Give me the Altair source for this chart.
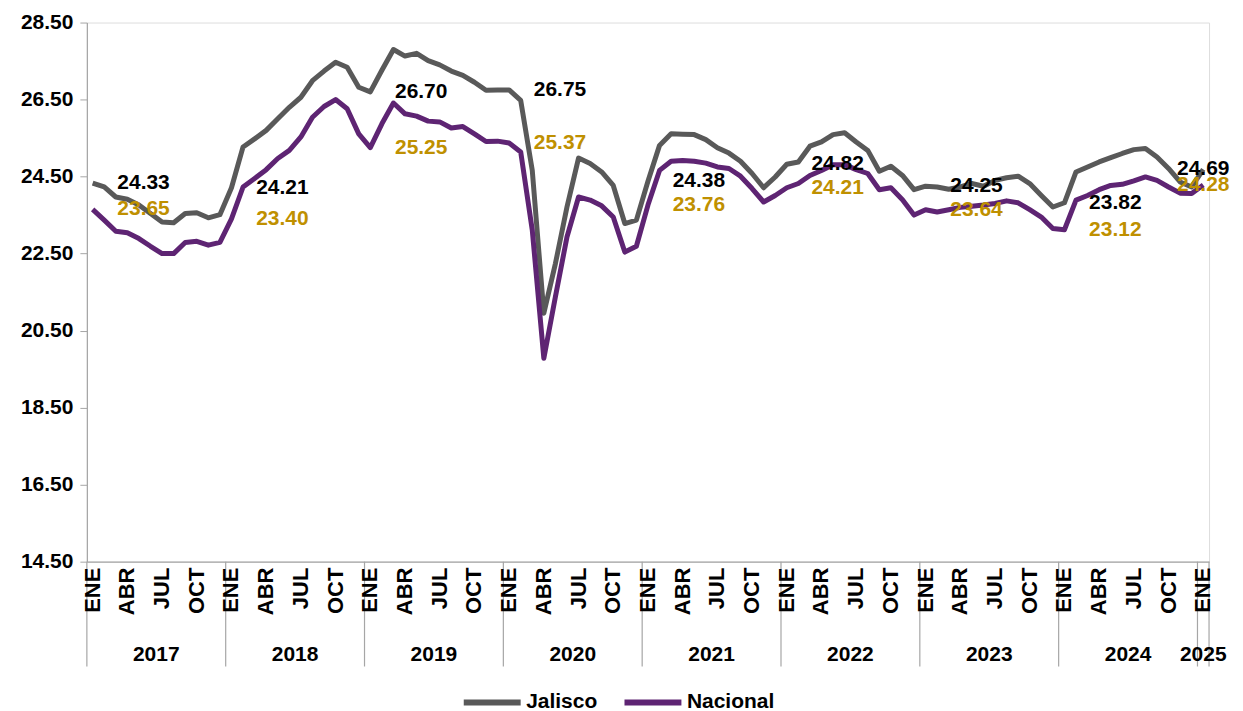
import altair as alt
import pandas as pd

# ---------------- data ----------------
years = [2017, 2018, 2019, 2020, 2021, 2022, 2023, 2024, 2025]
month_names = ["ENE", "ABR", "JUL", "OCT"]

jalisco = [24.33, 24.23, 23.97, 23.91, 23.76, 23.54, 23.32, 23.30, 23.54, 23.56, 23.43, 23.51,
           24.21, 25.27, 25.48, 25.70, 26.00, 26.30, 26.56, 26.99, 27.24, 27.47, 27.34, 26.82,
           26.70, 27.26, 27.80, 27.63, 27.70, 27.51, 27.40, 27.24, 27.13, 26.95, 26.74, 26.75,
           26.75, 26.48, 24.66, 20.95, 22.24, 23.71, 24.98, 24.84, 24.62, 24.27, 23.28, 23.37,
           24.38, 25.31, 25.61, 25.60, 25.59, 25.46, 25.25, 25.11, 24.90, 24.58, 24.21, 24.49,
           24.82, 24.88, 25.29, 25.40, 25.59, 25.64, 25.40, 25.18, 24.64, 24.77, 24.53, 24.16,
           24.25, 24.23, 24.17, 24.23, 24.32, 24.25, 24.40, 24.47, 24.51, 24.32, 24.01, 23.71,
           23.82, 24.62, 24.75, 24.88, 24.99, 25.10, 25.20, 25.23, 25.01, 24.71, 24.36, 24.23,
           24.69]

nacional = [23.65, 23.37, 23.08, 23.04, 22.89, 22.69, 22.50, 22.50, 22.79, 22.82, 22.72, 22.79,
            23.40, 24.23, 24.45, 24.68, 24.97, 25.18, 25.53, 26.04, 26.32, 26.50, 26.26, 25.61,
            25.25, 25.87, 26.41, 26.13, 26.07, 25.94, 25.92, 25.76, 25.80, 25.61, 25.41, 25.42,
            25.37, 25.14, 23.11, 19.78, 21.38, 22.93, 23.97, 23.89, 23.74, 23.45, 22.54, 22.69,
            23.76, 24.66, 24.90, 24.92, 24.90, 24.85, 24.75, 24.71, 24.51, 24.19, 23.84, 24.01,
            24.21, 24.32, 24.53, 24.66, 24.81, 24.81, 24.68, 24.58, 24.16, 24.21, 23.90, 23.50,
            23.64, 23.58, 23.64, 23.70, 23.73, 23.76, 23.80, 23.87, 23.82, 23.64, 23.45, 23.15,
            23.12, 23.89, 24.01, 24.16, 24.27, 24.30, 24.39, 24.49, 24.40, 24.23, 24.07, 24.06,
            24.28]

y_ticks = [14.5, 16.5, 18.5, 20.5, 22.5, 24.5, 26.5, 28.5]

# ---------------- styling ----------------
FONT = "Liberation Sans, Arial, sans-serif"
GRAY = "#595959"
PURPLE = "#5E2473"
GOLD = "#BF9000"
AXIS = "#A6A6A6"
FS = 21

n = len(jalisco)
idx = list(range(n))

lines_df = pd.DataFrame({
    "i": idx * 2,
    "valor": jalisco + nacional,
    "serie": ["Jalisco"] * n + ["Nacional"] * n,
})

# January labels (one per year), shown a few months to the right of January
jan_idx = [12 * k for k in range(len(years))]
label_x = [j + 4.4 for j in jan_idx[:-1]] + [jan_idx[-1]]
lab_df = pd.DataFrame({
    "x": label_x,
    "jal": [jalisco[j] for j in jan_idx],
    "nac": [nacional[j] for j in jan_idx],
})
lab_df["jal_t"] = lab_df["jal"].map(lambda v: f"{v:.2f}")
lab_df["nac_t"] = lab_df["nac"].map(lambda v: f"{v:.2f}")

# month tick labels, year separators and year labels
month_df = pd.DataFrame({
    "x": list(range(0, n, 3)),
    "m": [month_names[(k // 3) % 4] for k in range(0, n, 3)],
})
sep_df = pd.DataFrame({"x": [j - 0.5 for j in jan_idx] + [n - 0.5]})
year_df = pd.DataFrame({
    "x": [min(j + 5.5, n - 1) for j in jan_idx],
    "year": [str(y) for y in years],
})

W, H = 1124, 540
xscale = alt.Scale(domain=[-0.5, n - 0.5], nice=False, zero=False)
yscale = alt.Scale(domain=[14.5, 28.5], nice=False, zero=False)

base_x = alt.X(
    "i:Q", scale=xscale, title=None,
    axis=alt.Axis(labels=False, ticks=False, domainColor=AXIS, domainWidth=1.2, grid=False),
)
base_y = alt.Y(
    "valor:Q", scale=yscale, title=None,
    axis=alt.Axis(values=y_ticks, format=".2f", labelFontSize=FS, labelFontWeight="bold",
                  labelFont=FONT, labelColor="#000000", tickSize=7, tickColor=AXIS,
                  domainColor=AXIS, domainWidth=1.2, labelPadding=7, grid=False),
)

lines = alt.Chart(lines_df).mark_line(strokeWidth=5, strokeJoin="round").encode(
    x=base_x,
    y=base_y,
    color=alt.Color(
        "serie:N",
        scale=alt.Scale(domain=["Jalisco", "Nacional"], range=[GRAY, PURPLE]),
        legend=alt.Legend(title=None, orient="none", legendX=374, legendY=649,
                          direction="horizontal", symbolType="stroke", symbolSize=3250,
                          symbolStrokeWidth=6, labelFontSize=FS, labelFontWeight="bold",
                          labelFont=FONT, labelColor="#000000", columnPadding=14,
                          labelOffset=2),
    ),
    order=alt.Order("serie:N"),
)

jal_text = alt.Chart(lab_df).mark_text(
    font=FONT, fontSize=FS, fontWeight="bold", color="#000000", baseline="middle", align="center"
).encode(x=alt.X("x:Q", scale=xscale), y=alt.Y("jal:Q", scale=yscale), text="jal_t:N")

nac_text = alt.Chart(lab_df).mark_text(
    font=FONT, fontSize=FS, fontWeight="bold", color=GOLD, baseline="middle", align="center"
).encode(x=alt.X("x:Q", scale=xscale), y=alt.Y("nac:Q", scale=yscale), text="nac_t:N")

month_text = alt.Chart(month_df).mark_text(
    font=FONT, fontSize=22, fontWeight="bold", color="#000000", baseline="middle",
    align="right", angle=270
).encode(x=alt.X("x:Q", scale=xscale), y=alt.value(H + 6), text="m:N")

seps = alt.Chart(sep_df).mark_rule(color=AXIS, strokeWidth=1.2).encode(
    x=alt.X("x:Q", scale=xscale), y=alt.value(H), y2=alt.value(H + 105)
)

year_text = alt.Chart(year_df).mark_text(
    font=FONT, fontSize=FS, fontWeight="bold", color="#000000", baseline="middle", align="center"
).encode(x=alt.X("x:Q", scale=xscale), y=alt.value(H + 93), text="year:N")

chart = alt.layer(seps, lines, jal_text, nac_text, month_text, year_text).properties(
    width=W, height=H,
    autosize=alt.AutoSizeParams(type="none"),
    padding={"left": 79, "top": 14, "right": 26, "bottom": 149},
).configure_view(stroke=None).configure(background="#FFFFFF")

chart.save("out.html", embed_options={"renderer": "svg", "actions": False})
